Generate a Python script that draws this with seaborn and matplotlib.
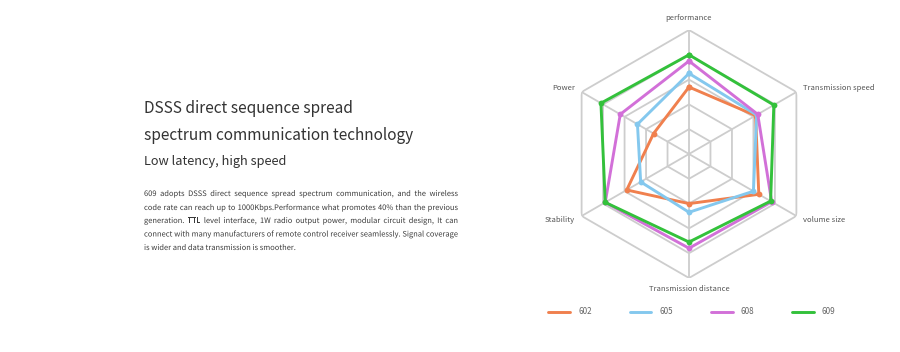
import numpy as np
import pandas as pd
import matplotlib
matplotlib.use("Agg")
import matplotlib.pyplot as plt
import matplotlib.patheffects as pe
import seaborn as sns
from matplotlib.lines import Line2D
from matplotlib.font_manager import FontProperties
from matplotlib.textpath import text_to_path

# axes of the radar, clockwise from the top
categories = ["performance", "Transmission speed", "volume size",
              "Transmission distance", "Stability", "Power"]
models = ["602", "605", "608", "609"]
vals_602 = [54, 62, 65, 40, 58, 33]
vals_605 = [65, 63, 60, 47, 45, 48]
vals_608 = [75, 64, 77, 76, 78, 64]
vals_609 = [80, 79, 76, 71, 78, 82]
colors = ["#f0804e", "#84c8ee", "#d270d8", "#33c13b"]
ring_levels = [20, 40, 60, 80, 100]

title_lines = ["DSSS direct sequence spread", "spectrum communication technology"]
subtitle = "Low latency, high speed"
para_lines = [
    "609 adopts DSSS direct sequence spread spectrum communication, and the wireless",
    "code rate can reach up to 1000Kbps.Performance what promotes 40% than the previous",
    "generation. TTL level interface, 1W radio output power, modular circuit design, It can",
    "connect with many manufacturers of remote control receiver seamlessly. Signal coverage",
    "is wider and data transmission is smoother.",
]

sns.set_theme(style="white")
plt.rcParams["font.family"] = ["Noto Sans CJK SC", "DejaVu Sans"]

n = len(categories)
theta = np.linspace(0, 2 * np.pi, n, endpoint=False)
theta_c = np.append(theta, 2 * np.pi)

rows = []
for m, v in zip(models, [vals_602, vals_605, vals_608, vals_609]):
    vv = list(v) + [v[0]]
    for t, r in zip(theta_c, vv):
        rows.append({"model": m, "theta": t, "value": r})
df = pd.DataFrame(rows)

fig = plt.figure(figsize=(9, 3.52), dpi=100)
W, H = 900, 352
cx, cy, rad = 689, 154, 124
ax = fig.add_axes([(cx - rad) / W, (H - cy - rad) / H, 2 * rad / W, 2 * rad / H],
                  projection="polar")
ax.set_theta_offset(np.pi / 2)
ax.set_theta_direction(-1)
ax.set_ylim(0, 100)
ax.grid(False)
ax.spines["polar"].set_visible(False)
ax.patch.set_alpha(0)

# hexagonal grid
for lvl in ring_levels:
    ax.plot(theta_c, [lvl] * (n + 1), color="#cdcdcd", lw=1.3, zorder=1)
for t in theta:
    ax.plot([t, t], [0, 100], color="#cdcdcd", lw=1.3, zorder=1)

sns.lineplot(data=df, x="theta", y="value", hue="model", hue_order=models,
             palette=colors, sort=False, estimator=None, marker="o",
             markersize=4.2, markeredgewidth=0, linewidth=2.1, legend=False,
             ax=ax, zorder=3)
ax.set_xlabel("")
ax.set_ylabel("")
ax.set_xticks([])
ax.set_yticks([])

lab_kw = dict(fontsize=5.5, color="#555555")
ax.text(theta[0], 110, categories[0], ha="center", va="center", **lab_kw)
ax.text(theta[1], 106, categories[1], ha="left", va="center", **lab_kw)
ax.text(theta[2], 106, categories[2], ha="left", va="center", **lab_kw)
ax.text(theta[3], 108.5, categories[3], ha="center", va="center", **lab_kw)
ax.text(theta[4], 106, categories[4], ha="right", va="center", **lab_kw)
ax.text(theta[5], 106, categories[5], ha="right", va="center", **lab_kw)

handles = [Line2D([0], [0], color=c, lw=2.1) for c in colors]
fig.legend(handles, models, loc="center", bbox_to_anchor=(692 / W, 1 - 312 / H),
           ncol=4, frameon=False, fontsize=5.8, handlelength=2.7,
           handletextpad=1.0, columnspacing=4.7, labelcolor="#666666")

# left-hand text block
x0 = 144 / W
fig.text(x0, 1 - 108 / H, title_lines[0], fontsize=11.1, color="#333333",
         va="center", ha="left")
fig.text(x0, 1 - 136 / H, title_lines[1], fontsize=11.1, color="#333333",
         va="center", ha="left")
fig.text(x0, 1 - 161 / H, subtitle, fontsize=9.2, color="#333333",
         va="center", ha="left")

# justified paragraph, words drawn as paths so they share one baseline
left, right = 144, 458
fam = ["Noto Sans CJK SC", "DejaVu Sans"]


def path_width(s, size):
    fp_ = FontProperties(family=fam, size=size)
    return text_to_path.get_text_width_height_descent(s, fp_, ismath=False)[0] * 100 / 72


# size so that the densest line just fills the column
longest = max(para_lines[:-1], key=lambda s: path_width(s, 10))
psize = 10 * (right - left - 2) / path_width(longest, 10)
fp = FontProperties(family=fam, size=psize)
space_w = path_width("a b", psize) - path_width("ab", psize)
para_base = [196, 210, 223, 236.5, 250]
for i, (line, yy) in enumerate(zip(para_lines, para_base)):
    words = line.split(" ")
    widths = [path_width(w, psize) for w in words]
    if i == len(para_lines) - 1:
        gap = space_w
    else:
        gap = (right - left - sum(widths)) / (len(words) - 1)
    xpos = left
    for w, wdt in zip(words, widths):
        fig.text(xpos / W, 1 - yy / H, w, fontproperties=fp, color="#3a3a3a",
                 va="baseline", ha="left", path_effects=[pe.Normal()])
        xpos += wdt + gap

fig.savefig("out.png", dpi=100)
